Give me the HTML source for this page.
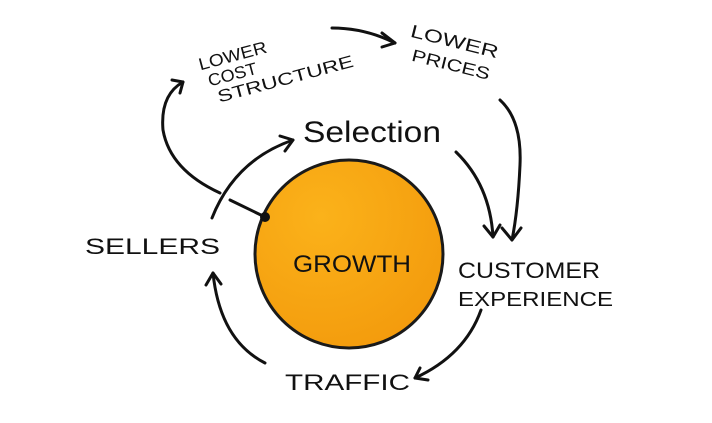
<!DOCTYPE html>
<html><head><style>body{margin:0;background:#fff}svg{display:block}</style></head><body>
<svg width="712" height="423" viewBox="0 0 712 423" xmlns="http://www.w3.org/2000/svg">
<defs>
<radialGradient id="g" cx="0.35" cy="0.3" r="0.8">
<stop offset="0" stop-color="#fbb21a"/><stop offset="1" stop-color="#f39a0c"/>
</radialGradient>
</defs>
<circle cx="349" cy="254" r="94" fill="url(#g)" stroke="#1a1a1a" stroke-width="3"/>
<g fill="none" stroke="#111" stroke-width="3" stroke-linecap="round" stroke-linejoin="round">
<!-- sellers -> selection -->
<path d="M212 218 Q235 160 293 140"/><path d="M280 136 L293 140 L285 151"/>
<!-- sellers -> lower cost -->
<path d="M220 193 Q170 170 163 130 Q160 95 183 82"/><path d="M172 80 L183 82 L180 93"/>
<!-- line to dot -->
<path d="M230 200 L265 217"/>
<!-- lower cost -> lower prices -->
<path d="M332 28 Q365 28 395 43"/><path d="M382 33 L395 43 L382 47"/>
<!-- lower prices -> customer -->
<path d="M500 100 Q522 120 520 165 Q518 210 512 240"/><path d="M502 228 L512 240 L521 228"/>
<!-- selection -> customer -->
<path d="M456 152 Q490 185 493 237"/><path d="M484 226 L493 237 L500 225"/>
<!-- customer -> traffic -->
<path d="M481 310 Q465 355 415 378"/><path d="M420 368 L415 378 L428 380"/>
<!-- traffic -> sellers -->
<path d="M265 363 Q220 340 213 273"/><path d="M206 285 L213 273 L221 284"/>
</g>
<circle cx="265" cy="217" r="5" fill="#111"/>
<g font-family="Liberation Sans, sans-serif" fill="#111">
<g transform="rotate(-15 270 60)">
<text x="200" y="52" font-size="17" textLength="70" lengthAdjust="spacingAndGlyphs">LOWER</text>
<text x="205" y="70" font-size="17" textLength="50" lengthAdjust="spacingAndGlyphs">COST</text>
<text x="210" y="88" font-size="17" textLength="140" lengthAdjust="spacingAndGlyphs">STRUCTURE</text>
</g>
<g transform="rotate(14 450 60)">
<text x="405" y="47" font-size="18" textLength="90" lengthAdjust="spacingAndGlyphs">LOWER</text>
<text x="412" y="70" font-size="17" textLength="80" lengthAdjust="spacingAndGlyphs">PRICES</text>
</g>
<text x="303" y="142" font-size="30" textLength="138" lengthAdjust="spacingAndGlyphs">Selection</text>
<text x="85" y="254" font-size="22" textLength="135" lengthAdjust="spacingAndGlyphs">SELLERS</text>
<text x="293" y="272" font-size="24" textLength="118" lengthAdjust="spacingAndGlyphs">GROWTH</text>
<text x="458" y="278" font-size="22" textLength="142" lengthAdjust="spacingAndGlyphs">CUSTOMER</text>
<text x="458" y="306" font-size="20" textLength="155" lengthAdjust="spacingAndGlyphs">EXPERIENCE</text>
<text x="285" y="390" font-size="22" textLength="125" lengthAdjust="spacingAndGlyphs">TRAFFIC</text>
</g>
</svg>
</body></html>
